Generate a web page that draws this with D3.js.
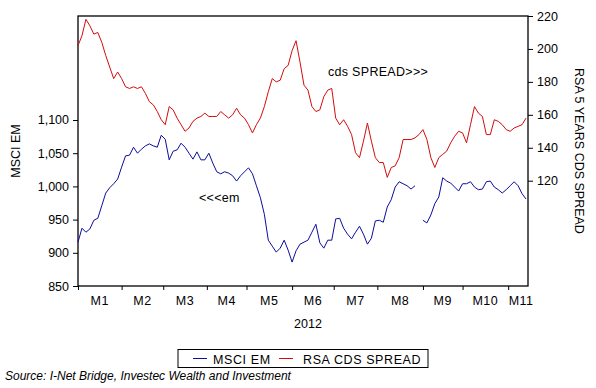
<!DOCTYPE html>
<html>
<head>
<meta charset="utf-8">
<script src="https://cdn.jsdelivr.net/npm/d3@7"></script>
<style>
  body { margin: 0; background: #fff; }
  svg { font-family: "Liberation Sans", Arial, sans-serif; }
</style>
</head>
<body>
<svg id="chart" width="596" height="388"></svg>
<script>
// trading days per month in 2012 (Nov is partial)
var monthLabels = ["M1", "M2", "M3", "M4", "M5", "M6", "M7", "M8", "M9", "M10", "M11"];
var monthDays = [22, 21, 22, 20, 23, 21, 22, 23, 20, 23, 10];

// one reading every second trading day
var msciEm = [916, 937, 931, 936, 949, 952, 971, 990, 998, 1004, 1011, 1029, 1046, 1047,
    1059, 1050, 1056, 1061, 1064, 1061, 1059, 1077, 1071, 1040, 1053, 1055, 1065, 1059,
    1050, 1041, 1052, 1040, 1040, 1050, 1035, 1022, 1019, 1022, 1020, 1016, 1008, 1016,
    1022, 1028, 1019, 1001, 983, 958, 919, 910, 901, 907, 919, 904, 886, 903, 913, 916,
    919, 931, 943, 915, 907, 919, 919, 951, 952, 937, 928, 921, 931, 940, 928, 913, 922,
    948, 949, 946, 969, 980, 999, 1007, 1004, 1001, 996, 1001, null, 949, 945, 957, 974,
    984, 1013, 1008, 1005, 999, 993, 1004, 1004, 1007, 999, 995, 996, 1007, 1008, 999,
    995, 990, 995, 1001, 1007, 1001, 989, 981];

var cdsSpread = [202, 208, 218, 214, 209, 210, 204, 196, 189, 182, 186, 182, 177, 176,
    177, 176, 177, 173, 168, 166, 162, 157, 154, 165, 163, 158, 154, 150, 152, 156, 158,
    159, 161, 159, 159, 159, 162, 160, 158, 160, 164, 160, 158, 154, 149, 154, 158, 165,
    174, 182, 180, 181, 188, 190, 199, 205, 192, 178, 175, 165, 162, 163, 171, 175, 176,
    158, 154, 157, 153, 148, 137, 134, 144, 155, 144, 134, 131, 131, 122, 128, 129, 134,
    145, 145, 145, 146, 148, 151, 145, 134, 128, 134, 136, 138, 143, 147, 150, 149, 143,
    154, 165, 161, 159, 148, 148, 157, 156, 154, 151, 150, 152, 153, 154, 158];

var emTicks = [850, 900, 950, 1000, 1050, 1100];
var cdsTicks = [120, 140, 160, 180, 200, 220];

d3.select(window).on('load', init);

function init() {

    var svg = d3.select('#chart');
    var left = 78, right = 528, top = 16, bottom = 286;
    var blue = "#0c0c9e", red = "#d30c0c";

    var totalDays = d3.sum(monthDays);
    var monthStarts = d3.cumsum([0].concat(monthDays.slice(0, -1)));

    var x = d3.scaleLinear().domain([0, totalDays]).range([left, right]);
    var yEm = d3.scaleLinear().domain([850, 1256.6]).range([bottom, top]);
    var yCds = d3.scaleLinear().domain([56.06, 220]).range([bottom, top]);

    //frame
    svg.append("rect")
        .attr("x", left).attr("y", top)
        .attr("width", right - left).attr("height", bottom - top)
        .attr("fill", "none")
        .attr("stroke", "#000")
        .attr("stroke-width", 1.3);

    //left axis
    var gL = svg.append("g")
        .attr("transform", "translate(" + left + ",0)")
        .call(d3.axisLeft(yEm).tickValues(emTicks).tickFormat(d3.format(",")).tickSize(5).tickPadding(4));
    gL.select(".domain").remove();

    //right axis
    var gR = svg.append("g")
        .attr("transform", "translate(" + right + ",0)")
        .call(d3.axisRight(yCds).tickValues(cdsTicks).tickSize(5).tickPadding(4));
    gR.select(".domain").remove();

    //bottom axis: month boundaries
    var gB = svg.append("g")
        .attr("transform", "translate(0," + bottom + ")")
        .call(d3.axisBottom(x).tickValues(monthStarts).tickFormat("").tickSize(4));
    gB.select(".domain").remove();

    svg.selectAll(".tick text")
        .attr("font-size", 12.5)
        .attr("font-family", "Liberation Sans, Arial, sans-serif")
        .attr("fill", "#000");
    svg.selectAll(".tick line").attr("stroke", "#000");

    svg.selectAll(".month")
        .data(monthLabels)
        .enter()
        .append("text")
        .attr("class", "month")
        .attr("x", function(d, i) { return x(monthStarts[i] + monthDays[i] / 2) + (i === 10 ? 3 : 0); })
        .attr("y", 305)
        .attr("text-anchor", "middle")
        .attr("font-size", 12.5)
        .attr("letter-spacing", 0.5)
        .text(function(d) { return d; });

    svg.append("text")
        .attr("x", 308).attr("y", 328)
        .attr("text-anchor", "middle")
        .attr("font-size", 12.5)
        .text("2012");

    svg.append("text")
        .attr("transform", "translate(20,151) rotate(-90)")
        .attr("text-anchor", "middle")
        .attr("font-size", 12.5)
        .text("MSCI EM");

    svg.append("text")
        .attr("transform", "translate(575,151) rotate(90)")
        .attr("text-anchor", "middle")
        .attr("font-size", 12.5)
        .text("RSA 5 YEARS CDS SPREAD");

    //lines
    var lineEm = d3.line()
        .defined(function(d) { return d != null; })
        .x(function(d, i) { return x(i * 2); })
        .y(function(d) { return yEm(d); });

    var lineCds = d3.line()
        .x(function(d, i) { return x(i * 2); })
        .y(function(d) { return yCds(d); });

    svg.append("path")
        .datum(cdsSpread)
        .attr("d", lineCds)
        .attr("fill", "none")
        .attr("stroke", red)
        .attr("stroke-width", 1);

    svg.append("path")
        .datum(msciEm)
        .attr("d", lineEm)
        .attr("fill", "none")
        .attr("stroke", blue)
        .attr("stroke-width", 1);

    //annotations
    svg.append("text")
        .attr("x", 328).attr("y", 76)
        .attr("font-size", 12.5)
        .attr("letter-spacing", 0.3)
        .text("cds SPREAD>>>");

    svg.append("text")
        .attr("x", 199).attr("y", 202)
        .attr("font-size", 12.5)
        .attr("letter-spacing", 0.3)
        .text("<<<em");

    //legend
    var leg = svg.append("g");
    leg.append("rect")
        .attr("x", 178).attr("y", 349.5)
        .attr("width", 250).attr("height", 18)
        .attr("fill", "#fff")
        .attr("stroke", "#000");
    var items = [
        { name: "MSCI EM", color: blue, x0: 193, tx: 213 },
        { name: "RSA CDS SPREAD", color: red, x0: 279, tx: 303 }
    ];
    items.forEach(function(it) {
        leg.append("line")
            .attr("x1", it.x0).attr("x2", it.x0 + 14)
            .attr("y1", 358.5).attr("y2", 358.5)
            .attr("stroke", it.color);
        leg.append("text")
            .attr("x", it.tx).attr("y", 363.5)
            .attr("font-size", 12.5)
            .attr("letter-spacing", 0.6)
            .text(it.name);
    });

    svg.append("text")
        .attr("x", 5).attr("y", 380)
        .attr("font-size", 12)
        .attr("font-style", "italic")
        .text("Source: I-Net Bridge, Investec Wealth and Investment");
}
</script>
</body>
</html>
